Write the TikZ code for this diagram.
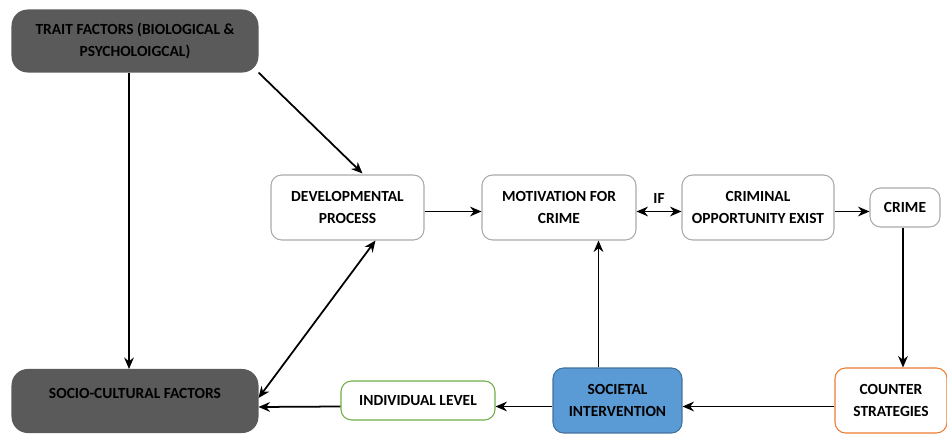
\documentclass[tikz,border=0pt]{standalone}
\usepackage{fontspec}
\setmainfont{Carlito}
\usetikzlibrary{arrows.meta,calc}
\definecolor{darkfill}{RGB}{90,90,90}
\definecolor{boxgray}{RGB}{170,170,170}
\definecolor{blufill}{RGB}{91,155,213}
\definecolor{bluline}{RGB}{65,113,156}
\definecolor{grnline}{RGB}{112,173,71}
\definecolor{orgline}{RGB}{237,125,49}
\tikzset{
  box/.style={draw=boxgray, line width=0.6pt, rounded corners=6pt, fill=white, align=center,
    font=\bfseries\fontsize{8.8}{12.5}\selectfont, inner sep=0pt},
  darkbox/.style={box, fill=darkfill, draw=darkfill, rounded corners=9pt},
  link/.style={-{Stealth[length=6.5pt,width=5.5pt]}, line width=1pt},
  twolink/.style={{Stealth[length=6.5pt,width=5.5pt]}-{Stealth[length=6.5pt,width=5.5pt]}, line width=1pt}
}
\begin{document}
\begin{tikzpicture}[x=0.02cm,y=-0.02cm]
  \useasboundingbox (0,0) rectangle (947,435);

  % upper row
  \node[darkbox, minimum width=4.92cm, minimum height=1.24cm] (trait) at (135,41)
    {TRAIT FACTORS (BIOLOGICAL \&\\PSYCHOLOIGCAL)};
  \node[box, minimum width=3.06cm, minimum height=1.3cm] (dev) at (347.5,207.5)
    {DEVELOPMENTAL\\PROCESS};
  \node[box, minimum width=3.08cm, minimum height=1.3cm] (motiv) at (559,207.5)
    {MOTIVATION FOR\\CRIME};
  \node[box, minimum width=3.04cm, minimum height=1.3cm] (opport) at (758,207.5)
    {CRIMINAL\\OPPORTUNITY EXIST};
  \node[box, minimum width=1.4cm, minimum height=0.78cm] (crime) at (905,207.5)
    {CRIME};

  % lower row
  \node[darkbox, minimum width=4.92cm, minimum height=1.26cm] (socio) at (135,401)
    {\raisebox{4.5pt}[\height][\depth]{SOCIO-CULTURAL FACTORS}};
  \node[box, draw=grnline, minimum width=3.08cm, minimum height=0.78cm] (indiv) at (418,400.5)
    {INDIVIDUAL LEVEL};
  \node[box, fill=blufill, draw=bluline, minimum width=2.58cm, minimum height=1.3cm] (societal) at (617.5,400.5)
    {SOCIETAL\\INTERVENTION};
  \node[box, draw=orgline, minimum width=2.24cm, minimum height=1.3cm] (counter) at (891,400.5)
    {COUNTER\\STRATEGIES};

  % connectors
  \draw[link] ($(trait.south)+(-6,0)$) -- ($(socio.north)+(-6,0)$);
  \draw[link] (trait.south east) -- ($(dev.north)+(15,-1)$);
  \draw[link] ($(dev.east)+(0,4)$) -- ($(motiv.west)+(0,4)$);
  \draw[twolink] ($(motiv.east)+(0,4)$) -- node[above=1pt, font=\bfseries\fontsize{8.8}{10}\selectfont] (iflbl) {IF} ($(opport.west)+(0,4)$);
  \draw[link] ($(opport.east)+(0,4)$) -- ($(crime.west)+(0,4)$);
  \draw[link] ($(crime.south)+(-2,0)$) -- ($(counter.north)+(12,0)$);
  \draw[link] ($(counter.west)+(0,6)$) -- ($(societal.east)+(0,6)$);
  \draw[link] ($(societal.north)+(-19,0)$) -- ($(motiv.south)+(39.5,0)$);
  \draw[link] ($(societal.west)+(0,6)$) -- ($(indiv.east)+(0,6)$);
  \draw[link] ($(indiv.west)+(0,6)$) -- ($(socio.east)+(0,6)$);
  \draw[twolink] ($(dev.south)+(28,0)$) -- ($(socio.east)+(0,-3)$);
\end{tikzpicture}
\end{document}
